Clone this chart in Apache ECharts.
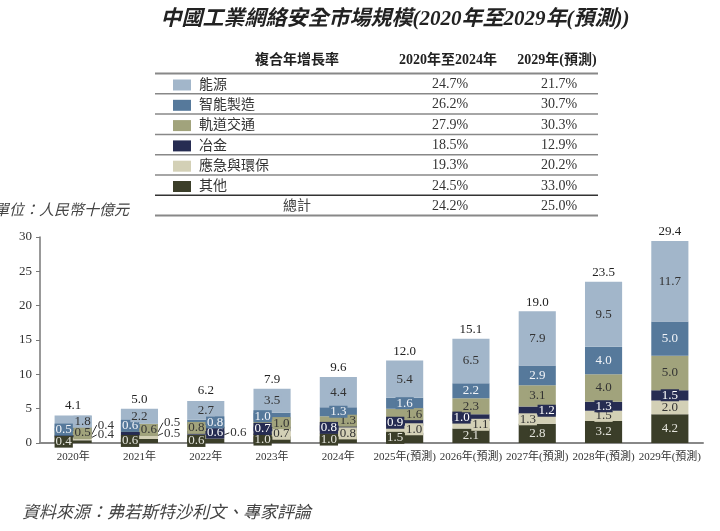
<!DOCTYPE html>
<html><head><meta charset="utf-8">
<script src="https://cdn.jsdelivr.net/npm/echarts@6/dist/echarts.min.js"></script>
<style>html,body{margin:0;padding:0;background:#fff}#c{width:720px;height:531px}</style>
</head><body><div id="c"></div>
<script>
// ---- data ----
const years = ['2020年','2021年','2022年','2023年','2024年','2025年(預測)','2026年(預測)','2027年(預測)','2028年(預測)','2029年(預測)'];
const other      = [0.4,0.6,0.6,1.0,1.0,1.5,2.1,2.8,3.2,4.2];
const emergency  = [0.4,0.5,0.6,0.7,0.8,1.0,1.1,1.3,1.5,2.0];
const metallurgy = [0.4,0.5,0.6,0.7,0.8,0.9,1.0,1.2,1.3,1.5];
const rail       = [0.5,0.6,0.8,1.0,1.3,1.6,2.3,3.1,4.0,5.0];
const smart      = [0.5,0.6,0.8,1.0,1.3,1.6,2.2,2.9,4.0,5.0];
const energy     = [1.8,2.2,2.7,3.5,4.4,5.4,6.5,7.9,9.5,11.7];
const totals     = [4.1,5.0,6.2,7.9,9.6,12.0,15.1,19.0,23.5,29.4];
const tableRows  = ['能源','智能製造','軌道交通','冶金','應急與環保','其他'];
const cagr2024   = ['24.7%','26.2%','27.9%','18.5%','19.3%','24.5%'];
const cagr2029   = ['21.7%','30.7%','30.3%','12.9%','20.2%','33.0%'];
const totalCagr  = ['24.2%','25.0%'];
const tableHead  = ['複合年增長率','2020年至2024年','2029年(預測)'];

// ---- styling ----
const SERIF = '"Liberation Serif","DejaVu Serif","Noto Sans CJK TC",serif';
const CJK = '"Liberation Serif","Noto Sans CJK TC",serif';
const styleMap = {
  '其他':      {color:'#3b3e29', text:'#e4e4dc', place:['L','L','L','L','L','L','C','C','C','C']},
  '應急與環保': {color:'#d3d0b6', text:'#333',    place:['O2','O2','O2','R','R','R','R','L','C','C']},
  '冶金':      {color:'#262c52', text:'#ffffff', place:['O1','O1','R','L','L','L','L','R','C','C']},
  '軌道交通':   {color:'#a1a37c', text:'#333',    place:['R','R','L','R','R','R','C','C','C','C']},
  '智能製造':   {color:'#56799b', text:'#f2f4f8', place:['L','L','R','L','C','C','C','C','C','C']},
  '能源':      {color:'#a2b6ca', text:'#333',    place:['R','C','C','C','C','C','C','C','C','C']}
};
const seriesData = [['其他',other],['應急與環保',emergency],['冶金',metallurgy],['軌道交通',rail],['智能製造',smart],['能源',energy]];

function makeSeries(name, vals){
  const st = styleMap[name];
  return {
    name, type:'bar', stack:'total', barWidth:'56%',
    itemStyle:{color:st.color},
    labelLine:{show:true, length2:0, lineStyle:{color:'#333', width:1}},
    labelLayout: function(p){
      const code = st.place[p.dataIndex];
      if (code === 'O1' || code === 'O2') {
        const r = p.rect;
        return {x: r.x + r.width + 5, y: r.y + r.height/2 - (code==='O1'?11:4), align:'left', verticalAlign:'middle'};
      }
      return {};
    },
    data: vals.map((v,i)=>{
      const code = st.place[i];
      let label;
      if (code === 'L') label = {position:'insideLeft', distance:0};
      else if (code === 'R') label = {position:'insideRight', distance:0};
      else if (code === 'C') label = {position:'inside'};
      else label = {position:'inside', color:'#333', backgroundColor:'transparent'};
      return {value:v, label};
    }),
    label:{show:true, fontFamily:SERIF, fontSize:13, color:st.text, backgroundColor:st.color, padding:[0,1], lineHeight:12,
      formatter:p=>Number(p.value).toFixed(1)}
  };
}

const series = seriesData.map(d=>makeSeries(d[0], d[1]));
series.push({
  name:'總計', type:'line', data:totals, symbol:'circle', symbolSize:0,
  lineStyle:{opacity:0}, silent:true, z:10,
  label:{show:true, position:'top', distance:3, fontFamily:SERIF, fontSize:13, color:'#222', formatter:p=>Number(p.value).toFixed(1)}
});

// table graphics
const graphic = [];
const rowY = i => 84.5 + i*20.3;
const lineYs = [73.5];
for (let i=1;i<=7;i++) lineYs.push(73.5 + i*20.3);
lineYs.forEach((y,i)=>{
  graphic.push({type:'line', shape:{x1:155,y1:y,x2:598,y2:y},
    style:{stroke: i===6 ? '#333' : '#888', lineWidth: (i===0||i===7)?2:1.5}});
});
const colX = [297, 448, 557];
tableHead.forEach((t,i)=>{
  graphic.push({type:'text', style:{text:t, x:colX[i], y:60, fill:'#222', font:'bold 14px '+CJK, textAlign:'center', textVerticalAlign:'middle', align:'center', verticalAlign:'middle'}});
});
function cell(t,x,y,font,fill){
  graphic.push({type:'text', style:{text:t, x, y, fill:fill||'#333', font, textAlign:'center', textVerticalAlign:'middle', align:'center', verticalAlign:'middle'}});
}
tableRows.forEach((n,i)=>{
  cell(cagr2024[i], 450, rowY(i), '14px '+SERIF);
  cell(cagr2029[i], 559, rowY(i), '14px '+SERIF);
});
cell('總計', 297, rowY(6), '14px '+CJK, '#444');
cell(totalCagr[0], 450, rowY(6), '14px '+SERIF);
cell(totalCagr[1], 559, rowY(6), '14px '+SERIF);
// unit + source
graphic.push({type:'text', style:{text:'單位：人民幣十億元', x:-6, y:211, fill:'#444', font:'italic 15px '+CJK, textAlign:'left', textVerticalAlign:'middle', align:'left', verticalAlign:'middle'}});
graphic.push({type:'text', style:{text:'資料來源：弗若斯特沙利文、專家評論', x:22, y:514, fill:'#444', font:'italic 17px '+CJK, textAlign:'left', textVerticalAlign:'middle', align:'left', verticalAlign:'middle'}});

const chart = echarts.init(document.getElementById('c'));
chart.setOption({
  animation:false,
  backgroundColor:'#fff',
  title:{text:'中國工業網絡安全市場規模(2020年至2029年(預測))', left:390, top:4, textAlign:'center',
    textStyle:{fontFamily:CJK, fontSize:21, fontWeight:'bold', fontStyle:'italic', color:'#222'}},
  legend:{orient:'vertical', left:173, top:78, padding:0, itemWidth:18, itemHeight:11, itemGap:6.3,
    icon:'rect', selectedMode:false, data:tableRows,
    textStyle:{fontFamily:CJK, fontSize:14, lineHeight:14, color:'#333', padding:[0,0,0,3]}},
  grid:{left:40, right:17, top:237, bottom:88},
  xAxis:{type:'category', data:years,
    axisLine:{lineStyle:{color:'#888', width:2}}, axisTick:{show:false},
    axisLabel:{interval:0, fontFamily:SERIF, fontSize:11, color:'#333', margin:9}},
  yAxis:{type:'value', min:0, max:30, interval:5,
    axisLine:{show:true, lineStyle:{color:'#777', width:1.5}},
    axisTick:{show:true, length:4, lineStyle:{color:'#777'}},
    splitLine:{show:false},
    axisLabel:{fontFamily:SERIF, fontSize:13, color:'#333', margin:8}},
  series, graphic
});
</script></body></html>
